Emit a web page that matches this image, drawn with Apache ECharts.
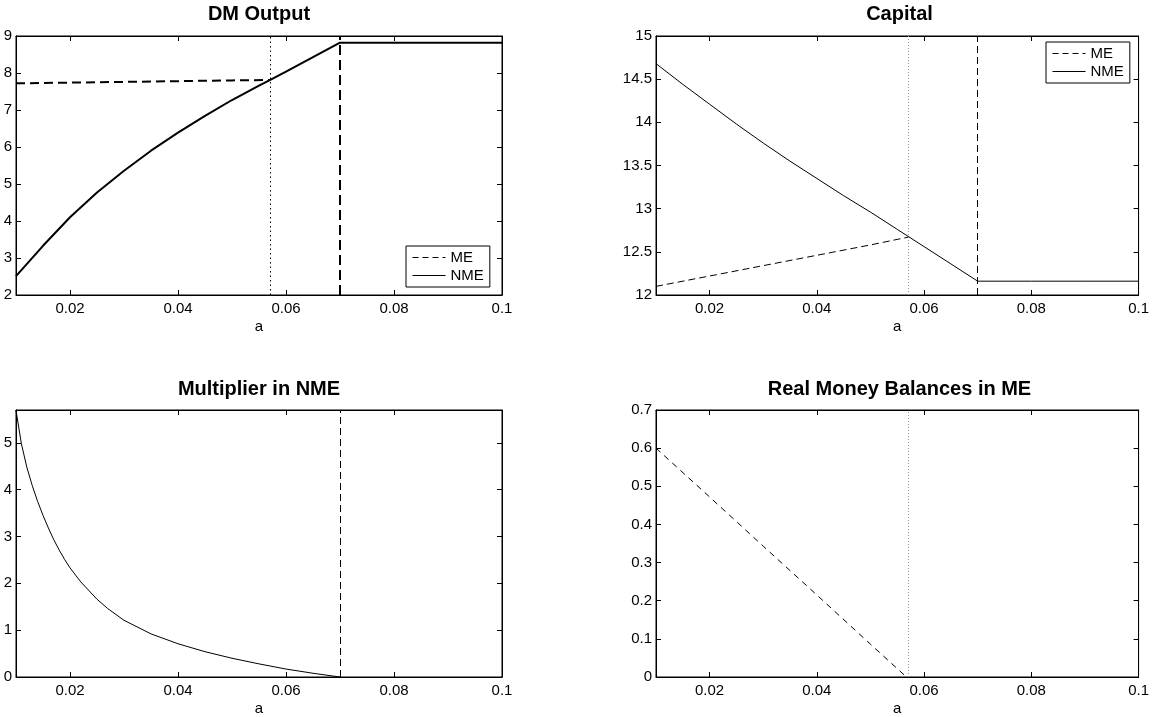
<!DOCTYPE html>
<html><head><meta charset="utf-8">
<script src="https://cdn.jsdelivr.net/npm/echarts@6/dist/echarts.min.js"></script>
<style>html,body{margin:0;padding:0;background:#fff}#c{width:1152px;height:717px}</style>
</head><body><div id="c"></div>
<script>
// ---- data ----
const xTicks = [0.02, 0.04, 0.06, 0.08, 0.1];
const aCut = 0.057;   // money stops being valued (dotted line)
const aBar = 0.07;    // threshold (dashed line)

// DM Output
const aDM = [0.01, 0.015, 0.02, 0.025, 0.03, 0.035, 0.04, 0.045, 0.05, 0.055, 0.057, 0.06, 0.065, 0.07, 0.08, 0.09, 0.1];
const dmNME = [2.51, 3.33, 4.10, 4.77, 5.36, 5.90, 6.39, 6.84, 7.27, 7.66, 7.81, 8.04, 8.43, 8.82, 8.82, 8.82, 8.82];
const aDMME = [0.01, 0.02, 0.03, 0.04, 0.05, 0.057];
const dmME = [7.72, 7.74, 7.76, 7.78, 7.80, 7.81];

// Capital
const aK = [0.01, 0.015, 0.02, 0.025, 0.03, 0.035, 0.04, 0.045, 0.05, 0.055, 0.057, 0.06, 0.065, 0.07, 0.08, 0.09, 0.1];
const kNME = [14.68, 14.44, 14.21, 13.98, 13.76, 13.55, 13.35, 13.15, 12.96, 12.76, 12.68, 12.56, 12.36, 12.16, 12.16, 12.16, 12.16];
const aKME = [0.01, 0.02, 0.03, 0.04, 0.05, 0.057];
const kME = [12.10, 12.22, 12.34, 12.46, 12.58, 12.67];

// Multiplier in NME
const aMul = [0.01, 0.011, 0.012, 0.013, 0.014, 0.015, 0.016, 0.017, 0.018, 0.019, 0.02, 0.022, 0.025, 0.027, 0.03, 0.035, 0.04, 0.045, 0.05, 0.055, 0.06, 0.065, 0.07];
const mulNME = [5.69, 4.98, 4.48, 4.09, 3.75, 3.45, 3.18, 2.93, 2.71, 2.51, 2.33, 2.03, 1.66, 1.46, 1.21, 0.92, 0.71, 0.54, 0.40, 0.28, 0.17, 0.08, 0.0];
const mulTicks = [0, 1, 2, 3, 4, 5];

// Real money balances in ME
const aM = [0.01, 0.02, 0.03, 0.04, 0.05, 0.0567];
const mME = [0.60, 0.472, 0.343, 0.215, 0.086, 0.0];

const titles = ['DM Output', 'Capital', 'Multiplier in NME', 'Real Money Balances in ME'];
const legendNames = ['ME', 'NME'];

// ---- chart ----
const FONT = '"Liberation Sans", Arial, Helvetica, sans-serif';
const grids = [
  {left: 16, top: 36, width: 486, height: 259},
  {left: 656, top: 36, width: 487, height: 259},
  {left: 16, top: 410, width: 486, height: 269},
  {left: 656, top: 410, width: 487, height: 269}
];
const yCfg = [
  {min: 2, max: 9, interval: 1},
  {min: 12, max: 15, interval: 0.5},
  {min: 0, max: 5.7, custom: mulTicks},
  {min: 0, max: 0.7, interval: 0.1}
];
const pairs = (xs, ys) => xs.map((x, k) => [x, ys[k]]);
const fmtX = v => String(+(+v).toFixed(3));
const fmtY = v => String(+(+v).toFixed(2));

const xAxis = [], yAxis = [];
grids.forEach((g, i) => {
  ['bottom', 'top'].forEach(pos => {
    xAxis.push({
      type: 'value', gridIndex: i, position: pos, min: 0.01, max: 0.1,
      name: pos === 'bottom' ? 'a' : '', nameLocation: 'middle', nameGap: 24,
      nameTextStyle: {fontFamily: FONT, fontSize: 15, color: '#000'},
      axisLine: {show: true, onZero: false, lineStyle: {color: '#000', width: 1}},
      axisTick: {show: true, inside: true, length: 5, customValues: xTicks, lineStyle: {color: '#000'}},
      axisLabel: {show: pos === 'bottom', customValues: xTicks, formatter: fmtX, margin: 6,
        fontFamily: FONT, fontSize: 15, color: '#000'},
      splitLine: {show: false}
    });
  });
  ['left', 'right'].forEach(pos => {
    const c = yCfg[i];
    const ax = {
      type: 'value', gridIndex: i, position: pos, min: c.min, max: c.max,
      axisLine: {show: true, onZero: false, lineStyle: {color: '#000', width: 1}},
      axisTick: {show: true, inside: true, length: 5, lineStyle: {color: '#000'}},
      axisLabel: {show: pos === 'left', formatter: fmtY, margin: 4,
        fontFamily: FONT, fontSize: 15, color: '#000'},
      splitLine: {show: false}
    };
    if (c.interval) ax.interval = c.interval;
    if (c.custom) { ax.axisTick.customValues = c.custom; ax.axisLabel.customValues = c.custom; }
    yAxis.push(ax);
  });
});

const vline = (x, type, color, width) => ({xAxis: x, lineStyle: {type, color, width}});
const mk = data => ({silent: true, precision: 4, symbol: ['none', 'none'], label: {show: false}, animation: false, data});
const black = {color: '#000'};

const series = [
  {name: 'ME', type: 'line', xAxisIndex: 0, yAxisIndex: 0, data: pairs(aDMME, dmME), symbol: 'none', itemStyle: black,
   lineStyle: {color: '#000', width: 2, type: [9, 5]},
   markLine: mk([vline(aCut, [1.5, 3], '#000', 1), vline(aBar, [10, 5], '#000', 2)])},
  {name: 'NME', type: 'line', xAxisIndex: 0, yAxisIndex: 0, data: pairs(aDM, dmNME), symbol: 'none', itemStyle: black,
   lineStyle: {color: '#000', width: 2, type: 'solid'}},
  {name: 'ME', type: 'line', xAxisIndex: 2, yAxisIndex: 2, data: pairs(aKME, kME), symbol: 'none', itemStyle: black,
   lineStyle: {color: '#000', width: 1, type: [7, 4]},
   markLine: mk([vline(aCut, [1, 2], '#9a9a9a', 1), vline(aBar, [7, 4], '#000', 1)])},
  {name: 'NME', type: 'line', xAxisIndex: 2, yAxisIndex: 2, data: pairs(aK, kNME), symbol: 'none', itemStyle: black,
   lineStyle: {color: '#000', width: 1, type: 'solid'}},
  {name: 'Multiplier', type: 'line', xAxisIndex: 4, yAxisIndex: 4, data: pairs(aMul, mulNME), symbol: 'none', itemStyle: black,
   lineStyle: {color: '#000', width: 1, type: 'solid'},
   markLine: mk([vline(aBar, [7, 4], '#000', 1)])},
  {name: 'Money', type: 'line', xAxisIndex: 6, yAxisIndex: 6, data: pairs(aM, mME), symbol: 'none', itemStyle: black,
   lineStyle: {color: '#000', width: 1, type: [6, 5]},
   markLine: mk([vline(aCut, [1, 2], '#9a9a9a', 1)])}
];

const legendBase = {
  data: [
    {name: legendNames[0], lineStyle: {type: [6, 4], width: 1, color: '#000'}},
    {name: legendNames[1], lineStyle: {type: 'solid', width: 1, color: '#000'}}
  ],
  orient: 'vertical', padding: [4, 6, 4, 6], itemWidth: 33, itemHeight: 16, itemGap: 3,
  borderColor: '#000', borderWidth: 1, backgroundColor: '#fff', borderRadius: 0,
  itemStyle: {color: 'rgba(0,0,0,0)', opacity: 0, borderWidth: 0},
  lineStyle: {width: 1, color: '#000'}, selectedMode: false,
  textStyle: {fontFamily: FONT, fontSize: 15, color: '#000'}
};

const option = {
  animation: false,
  backgroundColor: '#fff',
  title: titles.map((t, i) => ({
    text: t, left: grids[i].left + grids[i].width / 2, top: i < 2 ? 4 : 379, textAlign: 'center', padding: 0,
    textStyle: {fontFamily: FONT, fontSize: 20, fontWeight: 'bold', color: '#000'}
  })),
  grid: grids.map(g => Object.assign({show: true, borderColor: '#000', borderWidth: 1, backgroundColor: 'transparent'}, g)),
  legend: [
    Object.assign({left: 406, top: 246}, legendBase),
    Object.assign({left: 1046, top: 42}, legendBase)
  ],
  xAxis, yAxis, series
};
const chart = echarts.init(document.getElementById('c'));
chart.setOption(option);
</script></body></html>
